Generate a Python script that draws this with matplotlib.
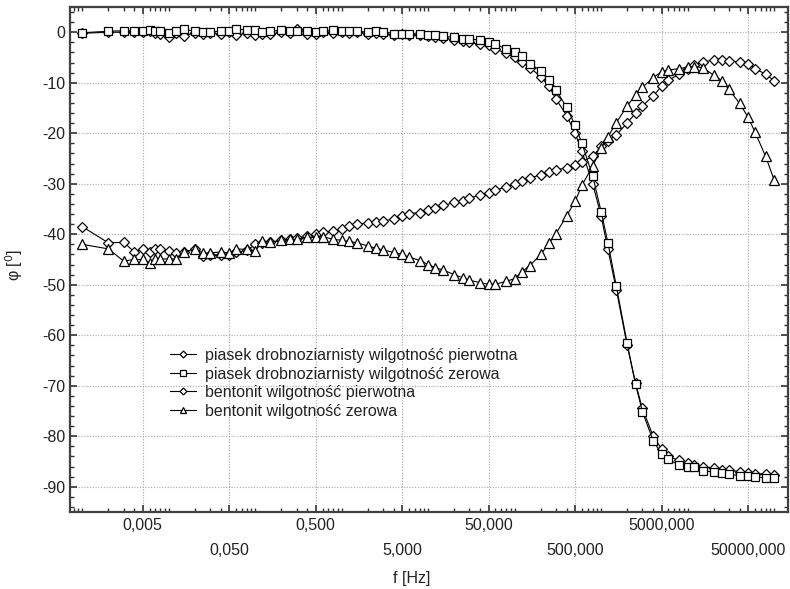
import matplotlib
matplotlib.use("Agg")
import matplotlib.pyplot as plt
from matplotlib.ticker import FixedLocator, LogLocator, MultipleLocator, NullFormatter

plt.rcParams['font.family'] = ['Liberation Sans', 'DejaVu Sans']
plt.rcParams['axes.unicode_minus'] = False

freq = [0.001, 0.002, 0.003, 0.004, 0.005, 0.006, 0.007, 0.008,
        0.01, 0.012, 0.015, 0.02, 0.025, 0.03, 0.04, 0.05, 0.06, 0.08,
        0.1, 0.12, 0.15, 0.2, 0.25, 0.3, 0.4, 0.5, 0.6, 0.8,
        1, 1.2, 1.5, 2, 2.5, 3, 4, 5, 6, 8,
        10, 12, 15, 20, 25, 30, 40, 50, 60, 80,
        100, 120, 150, 200, 250, 300, 400, 500, 600, 800,
        1000, 1200, 1500, 2000, 2500, 3000, 4000, 5000, 6000, 8000,
        10000, 12000, 15000, 20000, 25000, 30000, 40000, 50000, 60000, 80000,
        100000]

piasek_pierwotna = [-0.2, 0.0, 0.0, 0.1, 0.0, 0.2, -0.2, -0.3,
                    -1.0, -0.2, -0.7, -0.1, -0.3, -0.2, -0.3, 0.0, -0.6, -0.2,
                    -0.6, -0.3, -0.4, 0.0, -0.2, 0.6, -0.3, -0.3, 0.0, -0.1,
                    0.1, -0.2, 0.0, -0.3, -0.1, -0.3, -0.5, -0.4, -0.5, -0.6,
                    -0.8, -0.9, -1.2, -1.5, -1.8, -2.0, -2.4, -2.6, -3.3, -4.2,
                    -5.0, -5.8, -7.0, -8.8, -10.7, -13.2, -16.5, -20.0, -23.6, -30.0,
                    -36.4, -43.0, -51.0, -62.0, -69.5, -74.5, -80.0, -82.5, -84.0, -84.8,
                    -85.3, -85.6, -86.0, -86.3, -86.6, -86.7, -87.0, -87.2, -87.4, -87.5,
                    -87.6]

piasek_zerowa = [-0.1, 0.2, 0.3, 0.3, 0.3, 0.5, 0.3, 0.2,
                 -0.1, 0.3, 0.6, 0.2, 0.1, 0.1, 0.2, 0.3, 0.7, 0.4,
                 0.4, 0.1, 0.2, 0.4, 0.2, 0.3, 0.2, 0.1, 0.2, 0.4,
                 0.2, 0.2, 0.2, 0.0, 0.2, 0.1, -0.25, -0.25, -0.3, -0.3,
                 -0.45, -0.5, -0.8, -1.0, -1.25, -1.3, -1.6, -1.85, -2.4, -3.3,
                 -3.9, -4.7, -6.2, -7.6, -9.5, -11.4, -14.9, -18.4, -22.0, -28.5,
                 -35.5, -41.7, -50.3, -61.6, -69.7, -75.1, -80.9, -83.5, -84.6, -85.7,
                 -86.0, -86.1, -86.8, -87.1, -87.2, -87.4, -87.9, -87.9, -88.1, -88.2,
                 -88.2]

bentonit_pierwotna = [-38.5, -41.7, -41.6, -43.5, -42.9, -43.5, -42.9, -43.0,
                      -43.3, -43.8, -43.5, -43.0, -44.3, -44.1, -44.1, -44.1, -43.6, -43.2,
                      -42.0, -41.7, -41.6, -41.2, -41.0, -40.8, -40.3, -40.0, -39.6, -39.4,
                      -38.9, -38.4, -38.0, -37.8, -37.5, -37.4, -37.0, -36.3, -35.9, -35.7,
                      -35.1, -34.8, -34.3, -33.7, -33.5, -32.8, -32.3, -31.8, -31.3, -30.6,
                      -30.0, -29.4, -28.9, -28.2, -27.7, -27.3, -26.8, -26.2, -25.6, -24.6,
                      -22.6, -21.6, -20.3, -18.0, -16.0, -14.6, -12.6, -10.7, -9.5, -8.3,
                      -7.2, -6.5, -5.9, -5.5, -5.5, -5.6, -5.9, -6.2, -7.2, -8.3,
                      -9.6]

bentonit_zerowa = [-42.0, -42.9, -45.3, -45.0, -45.0, -45.6, -44.9, -44.9,
                   -44.9, -44.9, -43.5, -43.0, -43.7, -43.7, -43.5, -43.7, -42.9, -43.0,
                   -43.3, -41.4, -41.6, -41.2, -41.0, -41.0, -40.6, -40.6, -40.5, -41.0,
                   -41.2, -41.4, -41.7, -42.3, -42.8, -43.1, -43.6, -44.0, -44.5, -45.2,
                   -46.0, -46.6, -47.1, -48.0, -48.6, -49.1, -49.6, -49.9, -49.9, -49.3,
                   -48.8, -47.5, -46.2, -44.0, -41.8, -39.9, -36.3, -33.5, -30.3, -26.5,
                   -23.0, -20.7, -17.9, -14.6, -12.4, -10.9, -9.0, -7.8, -7.5, -7.2,
                   -6.9, -6.8, -7.0, -8.5, -9.6, -11.3, -14.1, -16.8, -19.7, -24.6,
                   -29.2]

labels = ["piasek drobnoziarnisty wilgotność pierwotna",
          "piasek drobnoziarnisty wilgotność zerowa",
          "bentonit wilgotność pierwotna",
          "bentonit wilgotność zerowa"]

xticks = [0.005, 0.05, 0.5, 5, 50, 500, 5000, 50000]
xticklabels = ["0,005", "0,050", "0,500", "5,000", "50,000", "500,000", "5000,000", "50000,000"]
yticks = [0, -10, -20, -30, -40, -50, -60, -70, -80, -90]

fig = plt.figure(figsize=(7.9, 5.89), dpi=100)
ax = fig.add_axes([70/790, 1-512/589, 718/790, 505/589])

fs = 11.5
common = dict(color='black', lw=0.8, markerfacecolor='white', markeredgecolor='black',
              markeredgewidth=0.9)
ax.plot(freq, piasek_pierwotna, marker='D', markersize=5, label=labels[0], zorder=3, **common)
ax.plot(freq, piasek_zerowa, marker='s', markersize=6, label=labels[1], zorder=4, **common)
ax.plot(freq, bentonit_pierwotna, marker='D', markersize=5, label=labels[2], zorder=3, **common)
ax.plot(freq, bentonit_zerowa, marker='^', markersize=6.5, label=labels[3], zorder=3, **common)

ax.set_xscale('log')
ax.set_xlim(0.00072, 1.45e5)
ax.set_ylim(-95, 5)

ax.xaxis.set_major_locator(FixedLocator(xticks))
ax.xaxis.set_minor_locator(LogLocator(base=10, subs=range(1, 10), numticks=100))
ax.xaxis.set_major_formatter(NullFormatter())
ax.xaxis.set_minor_formatter(NullFormatter())
ax.set_yticks(yticks)
ax.yaxis.set_minor_locator(MultipleLocator(2))

ax.tick_params(which='both', direction='in', top=True, right=True, colors='#333333')
ax.tick_params(which='major', length=5, width=1.2, labelsize=fs, labelcolor='#222222')
ax.tick_params(which='minor', length=3, width=1.0)

for s in ax.spines.values():
    s.set_linewidth(1.6)
    s.set_color('#404040')

ax.grid(True, which='major', linestyle=(0, (1, 1.5)), color='#a8a8a8', linewidth=0.8)
ax.set_axisbelow(True)

xt = ax.get_xaxis_transform()
for i, (t, lab) in enumerate(zip(xticks, xticklabels)):
    yy = -0.026 if i % 2 == 0 else -0.076
    ax.text(t, yy, lab, transform=xt, ha='center', va='center', fontsize=fs, color='#222222')

fig.text(412/790, 1-579/589, "f [Hz]", ha='center', va='center', fontsize=fs, color='#222222')
fig.text(14/790, 1-265/589, "φ [$^{0}$]", ha='center', va='center', rotation=90,
         fontsize=fs, color='#222222')

leg = ax.legend(loc='upper left', bbox_to_anchor=((170-70)/718, 1-(348-7)/505),
                frameon=False, fontsize=fs, handlelength=1.6, handletextpad=0.6,
                labelspacing=0.22, borderpad=0, borderaxespad=0, markerscale=0.7)
for t in leg.get_texts():
    t.set_color('#222222')

fig.savefig("out.png", dpi=100)
